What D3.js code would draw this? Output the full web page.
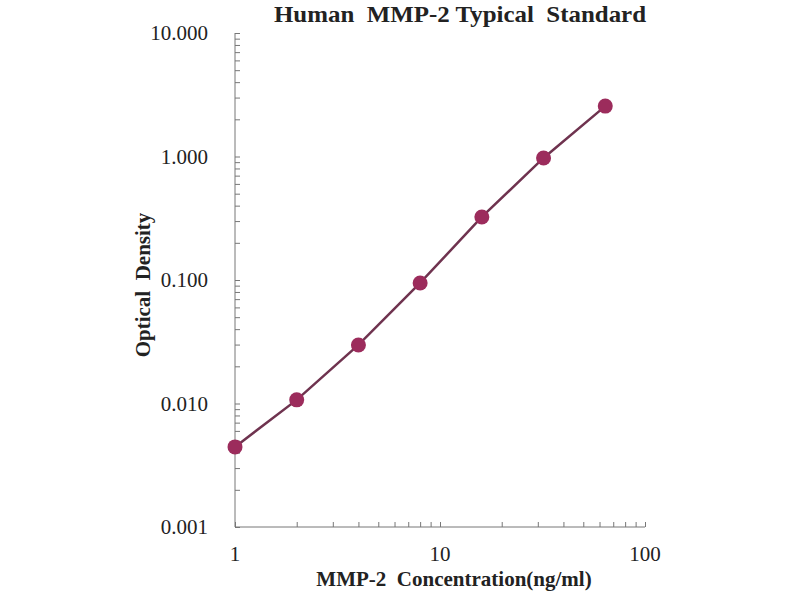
<!DOCTYPE html>
<html>
<head>
<meta charset="utf-8">
<script src="https://cdn.jsdelivr.net/npm/d3@7"></script>
<style>
  body { margin: 0; background: #fff; }
  svg text { font-family: "Liberation Serif", "Times New Roman", serif; fill: #222; }
  .axis path, .axis line { stroke: #777; }
</style>
</head>
<body>
<div id="chart"></div>
<script>
// Concentration (ng/ml) and optical density
const concentration = [1, 2, 4, 8, 16, 32, 64]
const density = [0.00445, 0.0107, 0.0298, 0.0946, 0.324, 0.973, 2.56]
const yTicks = [0.001, 0.01, 0.1, 1, 10]
const xTicks = [1, 10, 100]

function drawGraphic() {
    const width = 800, height = 600
    const margin = { top: 33, right: 155, bottom: 73, left: 235 }
    const w = width - margin.left - margin.right
    const h = height - margin.top - margin.bottom

    const svg = d3.select("#chart").append("svg")
        .attr("width", width)
        .attr("height", height)

    const g = svg.append("g")
        .attr("transform", "translate(" + margin.left + "," + margin.top + ")")

    const x = d3.scaleLog().domain([1, 100]).range([0, w])
    const y = d3.scaleLog().domain([0.001, 10]).range([h, 0])

    // minor ticks 2..9 in each decade
    const minorX = [], minorY = []
    for (let d = 1; d < 100; d *= 10) for (let k = 2; k <= 9; k++) minorX.push(d * k)
    for (let d = 0.001; d < 9; d *= 10) for (let k = 2; k <= 9; k++) minorY.push(+(d * k).toPrecision(3))

    // y axis (ticks pointing inward)
    const yAxis = g.append("g").attr("class", "axis")
        .call(d3.axisRight(y).tickValues(yTicks.concat(minorY)).tickSize(5).tickFormat(""))
    yAxis.select(".domain").attr("d", "M0," + h + "V0")

    g.append("g").selectAll("text")
        .data(yTicks)
        .join("text")
        .attr("x", -27)
        .attr("y", d => y(d))
        .attr("dy", "0.35em")
        .attr("text-anchor", "end")
        .style("font-size", "21px")
        .text(d => d3.format(".3f")(d))

    // x axis
    const xAxis = g.append("g").attr("class", "axis")
        .attr("transform", "translate(0," + h + ")")
        .call(d3.axisTop(x).tickValues(xTicks.concat(minorX)).tickSize(5).tickFormat(""))
    xAxis.select(".domain").attr("d", "M0,0H" + w)

    g.append("g").selectAll("text")
        .data(xTicks)
        .join("text")
        .attr("x", d => x(d))
        .attr("y", h + 34)
        .attr("text-anchor", "middle")
        .style("font-size", "21px")
        .text(d => d)

    // curve
    const pts = concentration.map((c, i) => ({ c, od: density[i] }))
    g.append("path")
        .datum(pts)
        .attr("fill", "none")
        .attr("stroke", "#6f334f")
        .attr("stroke-width", 2.5)
        .attr("d", d3.line().x(d => x(d.c)).y(d => y(d.od)))

    g.append("g").selectAll("circle")
        .data(pts)
        .join("circle")
        .attr("cx", d => x(d.c))
        .attr("cy", d => y(d.od))
        .attr("r", 7.5)
        .attr("fill", "#9c2c5c")

    // titles
    svg.append("text")
        .attr("x", 460)
        .attr("y", 22)
        .attr("text-anchor", "middle")
        .attr("textLength", 372)
        .attr("lengthAdjust", "spacingAndGlyphs")
        .style("font-size", "24px")
        .style("font-weight", "bold")
        .style("white-space", "pre")
        .text("Human  MMP-2 Typical  Standard")

    svg.append("text")
        .attr("transform", "translate(150,285) rotate(-90)")
        .attr("text-anchor", "middle")
        .style("font-size", "21px")
        .style("font-weight", "bold")
        .style("white-space", "pre")
        .text("Optical  Density")

    svg.append("text")
        .attr("x", 454)
        .attr("y", 586)
        .attr("text-anchor", "middle")
        .style("font-size", "21px")
        .style("font-weight", "bold")
        .style("white-space", "pre")
        .text("MMP-2  Concentration(ng/ml)")
}

window.addEventListener("load", drawGraphic)
</script>
</body>
</html>
